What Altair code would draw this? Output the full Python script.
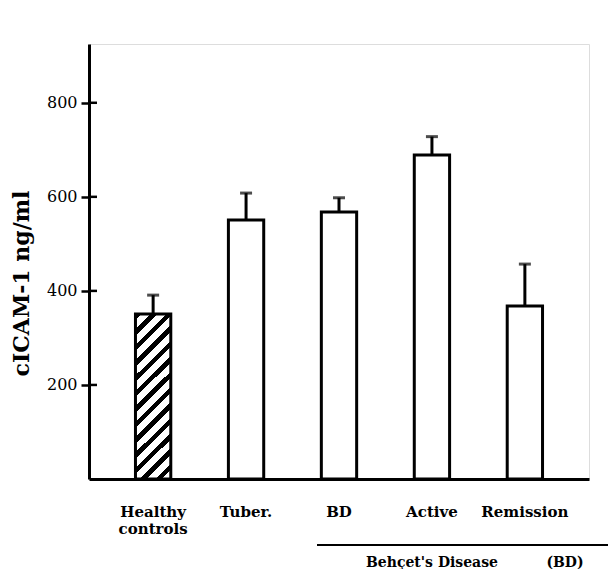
import altair as alt
import pandas as pd

categories = ["Healthy\ncontrols", "Tuber.", "BD", "Active", "Remission"]
means = [351, 551, 568, 689, 368]
errors = [40, 57, 30, 39, 89]
hatched = [True, False, False, False, False]
yticks = [200, 400, 600, 800]
group_words = ["Behçet's  Disease", "(BD)"]

df = pd.DataFrame({"cat": categories, "mean": means, "err": errors, "hatched": hatched})
df["upper"] = df["mean"] + df["err"]
tick_df = pd.DataFrame({"v": yticks})

# diagonal hatch via hard-stop gradient
W, H, n, frac = 35.0, 165.0, 13, 0.42
c = (W + H) / (W * W + H * H)
stops = []
for k in range(n):
    s = k / n
    m = (k + frac) / n
    e = (k + 1) / n
    stops += [alt.GradientStop(offset=s, color="black"), alt.GradientStop(offset=m, color="black"),
              alt.GradientStop(offset=m, color="white"), alt.GradientStop(offset=e, color="white")]
hatch = alt.LinearGradient(gradient="linear", stops=stops, x1=0, y1=0, x2=W * c, y2=H * c)

xenc = alt.X(
    "cat:N", sort=categories,
    scale=alt.Scale(paddingInner=0.62, paddingOuter=0.5),
    axis=alt.Axis(title=None, labelAngle=0, ticks=False, tickSize=0, domainWidth=3,
                  domainColor="black", labelFont="DejaVu Serif", labelFontWeight="bold",
                  labelFontSize=15, labelColor="black", labelPadding=25, labelBaseline="top",
                  labelLineHeight=17, labelExpr="split(datum.label, '\\n')"),
)
yscale = alt.Scale(domain=[0, 925], nice=False, zero=True)
yenc = alt.Y(
    "mean:Q", scale=yscale,
    axis=alt.Axis(values=yticks, title="cICAM-1 ng/ml", grid=False, domainWidth=3,
                  domainColor="black", tickColor="black", tickSize=8, tickWidth=2.5,
                  labelFont="DejaVu Serif", labelFontSize=16, labelColor="black", labelPadding=4,
                  titleFont="DejaVu Serif", titleFontWeight="bold", titleFontSize=22,
                  titleColor="black", titleAngle=-90, titleX=-68, titleY=239,
                  titleAlign="center", titleBaseline="middle"),
)

base = alt.Chart(df)
bars_plain = base.transform_filter("!datum.hatched").mark_bar(
    fill="white", stroke="black", strokeWidth=3).encode(x=xenc, y=yenc)
bars_hatch = base.transform_filter("datum.hatched").mark_bar(
    fill=hatch, stroke="black", strokeWidth=3).encode(x=xenc, y=yenc)
err_rule = base.mark_rule(color="black", strokeWidth=3).encode(
    x=alt.X("cat:N", sort=categories), y=alt.Y("mean:Q", scale=yscale), y2="upper:Q")
err_cap = base.mark_tick(color="black", thickness=3, size=12).encode(
    x=alt.X("cat:N", sort=categories), y=alt.Y("upper:Q", scale=yscale))
inner_ticks = alt.Chart(tick_df).mark_rule(color="black", strokeWidth=2.5).encode(
    y=alt.Y("v:Q", scale=yscale), x=alt.value(0), x2=alt.value(8))

bracket = alt.Chart(tick_df.head(1)).mark_rule(color="black", strokeWidth=2).encode(
    x=alt.value(228), x2=alt.value(519), y=alt.value(501))
txt1 = alt.Chart(pd.DataFrame({"t": [group_words[0]]})).mark_text(
    font="DejaVu Serif", fontWeight="bold", fontSize=14, color="black", baseline="middle").encode(
    text="t:N", x=alt.value(343), y=alt.value(519))
txt2 = alt.Chart(pd.DataFrame({"t": [group_words[1]]})).mark_text(
    font="DejaVu Serif", fontWeight="bold", fontSize=14, color="black", baseline="middle").encode(
    text="t:N", x=alt.value(476), y=alt.value(519))

chart = alt.layer(bars_plain, bars_hatch, err_rule, err_cap, inner_ticks, bracket, txt1, txt2).properties(
    width=500, height=435, autosize="none",
    padding={"left": 81, "top": 36, "right": 19, "bottom": 90},
).configure_view(stroke=None).configure(background="white")

chart.save("out.html", embed_options={"renderer": "svg", "actions": False})
